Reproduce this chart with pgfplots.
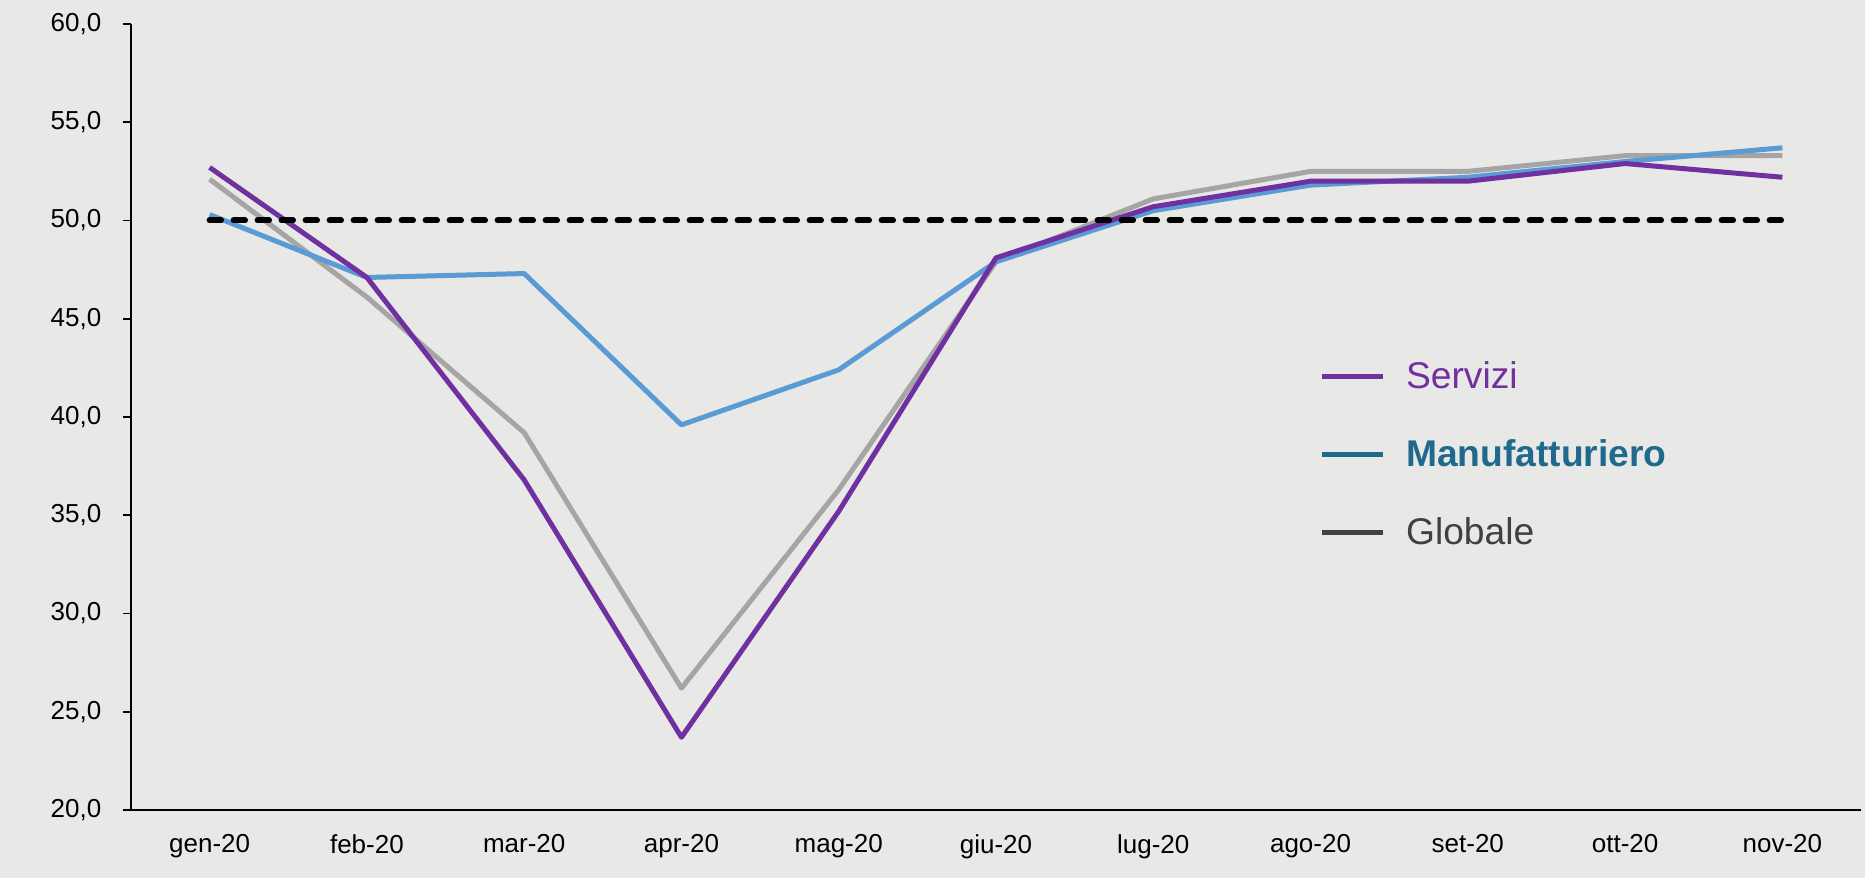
\documentclass[border=0pt]{standalone}
\usepackage{pgfplots}
\pgfplotsset{compat=1.18}
\usepackage{pgfplotstable}
\usepackage{fontspec}
\setmainfont{Liberation Sans}
\usetikzlibrary{backgrounds,calc}
\definecolor{bgc}{HTML}{E8E8E6}
\definecolor{serv}{HTML}{7030A0}
\definecolor{manuf}{HTML}{5B9BD5}
\definecolor{glob}{HTML}{A5A5A5}
\definecolor{manufleg}{HTML}{1F6A8C}
\definecolor{globleg}{HTML}{404040}

\pgfplotstableread{
x serv manuf glob
0 52.7 50.3 52.1
1 47.1 47.1 46.1
2 36.8 47.3 39.2
3 23.7 39.6 26.2
4 35.2 42.4 36.3
5 48.1 47.9 47.9
6 50.7 50.5 51.1
7 52.0 51.8 52.5
8 52.0 52.2 52.5
9 52.9 53.0 53.3
10 52.2 53.7 53.3
}\datatable

\begin{document}
\begin{tikzpicture}
\begin{axis}[
  scale only axis, width=865pt, height=393pt,
  xmin=-0.5, xmax=10.5, ymin=20, ymax=60,
  axis x line*=bottom, axis y line*=left,
  axis line style={line width=1pt, black},
  tick align=outside, major tick length=3.8pt,
  xtick={0,...,10},
  xticklabels={gen-20,feb-20,mar-20,apr-20,mag-20,giu-20,lug-20,ago-20,set-20,ott-20,nov-20},
  xtick style={draw=none},
  extra x ticks={-0.5,0.5,1.5,2.5,3.5,4.5,5.5,6.5,7.5,8.5,9.5,10.5},
  extra x tick labels={},
  extra x tick style={tick style={draw=black, line width=0.8pt}},
  ytick={20,25,...,60},
  ytick style={draw=black, line width=0.8pt},
  yticklabel style={xshift=-7.5pt, /pgf/number format/fixed, /pgf/number format/fixed zerofill, /pgf/number format/precision=1, /pgf/number format/use comma, /pgf/number format/assume math mode=true},
  xticklabel style={yshift=-5pt},
  ticklabel style={font=\fontsize{13}{15}\selectfont, text=black},
  legend style={draw=none, fill=none, inner sep=0pt, outer sep=0pt,
    at={(rel axis cs:0.687,0.452)}, anchor=west,
    nodes={inner sep=0pt}, row sep=24pt,
    font=\fontsize{18.6}{22}\selectfont},
  legend cell align=left,
  legend image code/.code={\path[draw=none, fill=none] (0pt,-6pt) rectangle (42pt,6pt); \draw[line width=2.6pt] (0pt,0pt) -- (30.5pt,0pt);},
]
\addplot[glob, line width=2.5pt, line join=round, forget plot] table[x=x, y=glob] {\datatable};
\addplot[manuf, line width=2.5pt, line join=round, forget plot] table[x=x, y=manuf] {\datatable};
\addplot[serv, line width=2.5pt, line join=round, forget plot] table[x=x, y=serv] {\datatable};
\addplot[black, line width=3pt, dash pattern=on 5.7pt off 6.3pt, line cap=round, forget plot] coordinates {(0,50) (10,50)};
\addlegendimage{serv}
\addlegendentry{\textcolor{serv}{Servizi}}
\addlegendimage{manufleg}
\addlegendentry{\textcolor{manufleg}{\bfseries Manufatturiero}}
\addlegendimage{globleg}
\addlegendentry{\textcolor{globleg}{Globale}}
\coordinate (sw) at (rel axis cs:0,0);
\coordinate (ne) at (rel axis cs:1,1);
\end{axis}
\pgfresetboundingbox
\path[use as bounding box] ($(sw)+(-65.5pt,-34pt)$) rectangle ($(ne)+(2pt,12pt)$);
\begin{scope}[on background layer]
\fill[bgc] ($(sw)+(-65.5pt,-34pt)$) rectangle ($(ne)+(2pt,12pt)$);
\end{scope}
\end{tikzpicture}
\end{document}
